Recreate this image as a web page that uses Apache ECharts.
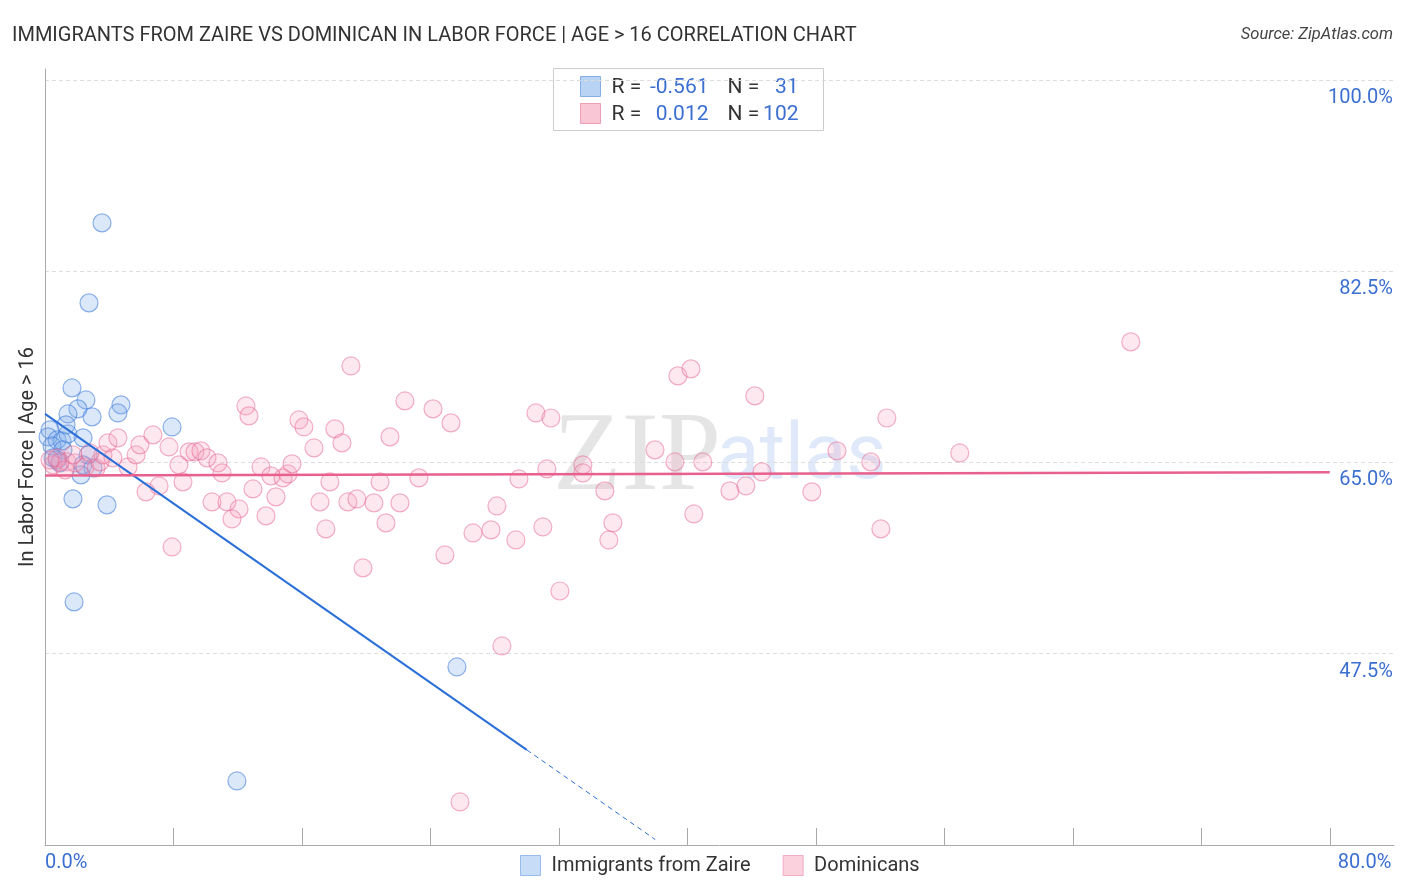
<!DOCTYPE html>
<html>
<head>
<meta charset="utf-8">
<script src="https://cdn.jsdelivr.net/npm/echarts/dist/echarts.min.js"></script>
<style>html,body{margin:0;padding:0;background:#fff}#c{width:1406px;height:892px}</style>
</head>
<body>
<div id="c"></div>
<script>
// ---- data ----
const zaireX = [3.55,2.74,1.68,2.55,2.05,1.43,2.93,4.73,4.54,7.91,0.31,0.19,0.75,1.06,0.44,2.37,1.43,1.12,0.75,2.68,2.37,2.99,2.24,1.74,3.86,1.81,25.65,11.95,0.50,0.93,1.31];
const zaireY = [86.92,79.60,71.82,70.72,69.90,69.44,69.17,70.27,69.53,68.25,67.98,67.34,67.06,66.97,66.51,67.25,67.61,66.15,65.23,65.69,64.78,64.50,63.86,61.67,61.12,52.24,46.29,35.86,65.42,64.96,68.44];
const domX = [0.50,0.93,1.37,1.87,2.49,3.18,3.42,3.61,3.92,4.54,5.17,5.67,5.91,6.72,7.72,8.34,8.59,6.29,7.10,7.91,8.97,9.34,9.71,10.09,10.77,11.02,10.40,11.33,12.08,11.64,12.51,12.70,12.95,13.45,14.07,14.82,15.13,15.38,14.38,13.76,15.81,16.12,16.75,18.05,18.49,17.74,17.12,18.86,19.42,17.49,19.05,19.80,20.48,21.23,22.10,20.86,21.48,22.41,24.16,25.28,23.28,24.90,26.65,27.77,29.32,31.00,28.14,29.51,30.57,31.50,31.25,33.49,33.49,34.86,35.36,35.11,32.06,28.45,25.84,37.98,39.22,39.41,40.22,40.40,40.96,42.65,43.64,44.20,44.64,47.75,49.31,51.42,52.05,52.42,56.96,67.61,0.31,0.75,1.25,2.80,4.23,1.74];
const domY = [64.78,65.05,65.05,64.96,64.59,64.50,65.05,65.69,66.79,67.25,64.59,65.69,66.61,67.52,66.42,64.78,63.22,62.31,62.85,57.27,65.97,65.97,66.06,65.42,64.96,64.04,61.39,61.39,60.75,59.83,70.17,69.26,62.58,64.59,63.77,63.59,63.95,64.87,61.85,60.11,68.89,68.25,66.33,68.07,66.79,63.22,61.39,61.39,61.66,58.92,73.83,55.35,61.30,59.47,61.30,63.22,67.34,70.63,69.90,68.62,63.59,56.54,58.55,58.83,57.91,59.10,61.02,63.49,69.53,69.07,64.41,64.78,64.04,62.40,59.47,57.91,53.24,48.21,33.94,66.15,65.05,72.92,73.56,60.29,65.05,62.40,62.85,71.09,64.13,62.31,66.06,65.05,58.92,69.07,65.87,76.03,65.23,65.42,64.32,65.87,65.42,65.69];
const zaireTrendX = [0, 30];
const zaireTrendY = [69.44, 38.7];
const zaireDashX = [30, 38.0];
const zaireDashY = [38.7, 30.5];
const domTrendX = [0, 80];
const domTrendY = [63.8, 64.1];
const xTickValues = [0,8,16,24,32,40,48,56,64,72,80];
const xLabelValues = [0,80];
const yTickValues = [47.5,65,82.5,100];
const seriesNames = ['Immigrants from Zaire','Dominicans'];
const statsR = ['-0.561','0.012'];
const statsN = ['31','102'];

const zip = (a,b) => a.map((v,i)=>[v,b[i]]);
const BLUE_TXT = '#3b6fd1';
const FONT = 'Roboto';

const chart = echarts.init(document.getElementById('c'), null, {renderer:'canvas'});
chart.setOption({
  animation:false,
  backgroundColor:'#fff',
  title:[
    {text:'IMMIGRANTS FROM ZAIRE VS DOMINICAN IN LABOR FORCE | AGE > 16 CORRELATION CHART', left:7, top:21,
     textStyle:{fontSize:20, fontWeight:'normal', color:'#333', fontFamily:FONT}},
    {text:'Source: ZipAtlas.com', right:8, top:21,
     textStyle:{fontSize:16.5, fontWeight:'normal', fontStyle:'italic', color:'#444', fontFamily:FONT}}
  ],
  grid:{left:45, right:12, top:69, bottom:47, containLabel:false},
  legend:{
    left:515, top:850, itemWidth:20, itemHeight:20, itemGap:32,
    textStyle:{fontSize:20, color:'#333', fontFamily:FONT, padding:[0,0,0,6]},
    data:[
      {name:seriesNames[0], icon:'rect', itemStyle:{color:'#b9d3f5', borderColor:'#86aee6', borderWidth:1}},
      {name:seriesNames[1], icon:'rect', itemStyle:{color:'#f9c6d5', borderColor:'#ee9db6', borderWidth:1}}
    ]
  },
  xAxis:{
    type:'value', min:0, max:84, interval:8,
    axisLine:{show:true, lineStyle:{color:'#aaa', width:1}},
    axisTick:{show:true, inside:true, length:17, customValues:xTickValues, lineStyle:{color:'#aaa'}},
    axisLabel:{customValues:xLabelValues, align:'left', margin:8, color:BLUE_TXT, fontSize:20, fontFamily:FONT,
      formatter:v=> v===80 ? '{r|'+v.toFixed(1)+'%}' : v.toFixed(1)+'%',
      rich:{r:{padding:[0,0,0,8], color:BLUE_TXT, fontSize:20, fontFamily:FONT}}},
    splitLine:{show:false}
  },
  yAxis:[
    {type:'value', position:'right', min:30, max:101, interval:17.5,
     axisLine:{show:false},
     axisTick:{show:false, customValues:yTickValues},
     axisLabel:{customValues:yTickValues, inside:true, margin:1, color:BLUE_TXT, fontSize:20, fontFamily:FONT,
       verticalAlign:'top', padding:[8,0,0,0], formatter:v=>v.toFixed(1)+'%'},
     splitLine:{show:true, lineStyle:{type:[4,3], color:'#ddd', width:1}}
    },
    {type:'value', position:'left', min:30, max:101,
     axisLine:{show:true, lineStyle:{color:'#aaa', width:1}},
     axisTick:{show:false}, axisLabel:{show:false}, splitLine:{show:false},
     name:'In Labor Force | Age > 16', nameLocation:'middle', nameGap:7,
     nameTextStyle:{fontSize:20, color:'#333', fontFamily:FONT}
    }
  ],
  graphic:[
    {type:'text', left:553, top:404, z:0, silent:true,
     style:{text:'ZIP', fontSize:112, fontFamily:'Liberation Serif', fill:'rgba(0,0,0,0.10)'}},
    {type:'text', left:717, top:419, z:0, silent:true,
     style:{text:'atlas', fontSize:78, fontFamily:FONT, fill:'rgba(80,135,225,0.18)'}},
    {type:'group', left:553, top:68, z:100, children:[
      {type:'rect', shape:{x:0,y:0,width:270,height:62}, style:{fill:'#fff', stroke:'#ccc', lineWidth:1}},
      {type:'rect', shape:{x:27,y:8,width:20,height:20}, style:{fill:'#b9d3f5', stroke:'#86aee6', lineWidth:1}},
      {type:'rect', shape:{x:27,y:35,width:20,height:20}, style:{fill:'#f9c6d5', stroke:'#ee9db6', lineWidth:1}},
      {type:'text', x:58, y:19, style:{text:'R =', fontSize:21, fontFamily:FONT, fill:'#333', verticalAlign:'middle'}},
      {type:'text', x:155, y:19, style:{text:statsR[0], fontSize:21, fontFamily:FONT, fill:BLUE_TXT, align:'right', verticalAlign:'middle'}},
      {type:'text', x:174, y:19, style:{text:'N =', fontSize:21, fontFamily:FONT, fill:'#333', verticalAlign:'middle'}},
      {type:'text', x:245, y:19, style:{text:statsN[0], fontSize:21, fontFamily:FONT, fill:BLUE_TXT, align:'right', verticalAlign:'middle'}},
      {type:'text', x:58, y:46, style:{text:'R =', fontSize:21, fontFamily:FONT, fill:'#333', verticalAlign:'middle'}},
      {type:'text', x:155, y:46, style:{text:statsR[1], fontSize:21, fontFamily:FONT, fill:BLUE_TXT, align:'right', verticalAlign:'middle'}},
      {type:'text', x:174, y:46, style:{text:'N =', fontSize:21, fontFamily:FONT, fill:'#333', verticalAlign:'middle'}},
      {type:'text', x:245, y:46, style:{text:statsN[1], fontSize:21, fontFamily:FONT, fill:BLUE_TXT, align:'right', verticalAlign:'middle'}}
    ]}
  ],
  series:[
    {name:seriesNames[0], type:'scatter', symbolSize:18, z:3, data:zip(zaireX,zaireY),
     itemStyle:{color:'rgba(125,172,235,0.35)', borderColor:'rgba(70,128,220,0.75)', borderWidth:1.2}},
    {name:seriesNames[1], type:'scatter', symbolSize:18, z:3, data:zip(domX,domY),
     itemStyle:{color:'rgba(245,160,188,0.3)', borderColor:'rgba(230,105,148,0.65)', borderWidth:1.2}},
    {name:'zaireTrend', type:'line', z:5, symbol:'none', data:zip(zaireTrendX,zaireTrendY),
     lineStyle:{color:'#2b6fd8', width:2}},
    {name:'zaireTrendExt', type:'line', z:5, symbol:'none', data:zip(zaireDashX,zaireDashY),
     lineStyle:{color:'#2b6fd8', width:1, type:[5,4]}},
    {name:'domTrend', type:'line', z:5, symbol:'none', data:zip(domTrendX,domTrendY),
     lineStyle:{color:'#e8608c', width:2.5}}
  ]
});
</script>
</body>
</html>
